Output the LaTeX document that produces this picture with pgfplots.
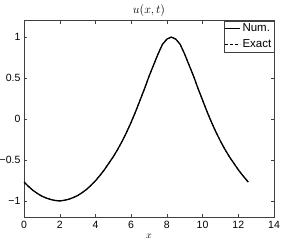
\documentclass[border=0pt]{standalone}
\usepackage{pgfplots}
\pgfplotsset{compat=1.18}
\usepackage{fontspec}
\setmainfont{Liberation Sans}
\begin{document}
\begin{tikzpicture}
\begin{axis}[
  scale only axis, width=250pt, height=196.6pt,
  xmin=0, xmax=14, ymin=-1.2, ymax=1.2,
  xtick={0,2,4,6,8,10,12,14},
  ytick={-1,-0.5,0,0.5,1},
  yticklabels={−1,−0.5,0,0.5,1},
  /pgf/number format/assume math mode=true,
  tick align=inside, major tick length=3pt,
  tick label style={font=\fontsize{10.5}{12}\selectfont},
  axis line style={black!75},
  every tick/.style={black!75},
  title={$u(x,t)$},
  every axis title/.style={font=\fontsize{11.5}{13}\selectfont, at={(0.5,1)}, anchor=base, yshift=7.5pt},
  xlabel={$x$},
  every axis x label/.style={font=\fontsize{10}{12}\selectfont, at={(0.5,0)}, anchor=base, yshift=-21pt},
  legend style={at={(1,1)}, anchor=north east, font=\fontsize{11.5}{13}\selectfont,
    draw=black!75, inner xsep=1pt, inner ysep=1.5pt, row sep=3pt,
    nodes={inner sep=1.5pt}},
  legend cell align=left,
  legend image code/.code={\draw[#1] (0pt,0pt) -- (15pt,0pt);},
]
\addplot[black, line width=1.3pt] coordinates {
(0,-0.770)(0.25,-0.823)(0.5,-0.871)(0.75,-0.909)(1.0,-0.942)(1.25,-0.965)(1.5,-0.983)(1.75,-0.995)
(2.0,-1.0)(2.25,-0.993)(2.5,-0.98)(2.75,-0.96)(3.0,-0.935)(3.25,-0.90)(3.5,-0.86)(3.75,-0.81)
(4.0,-0.755)(4.25,-0.69)(4.5,-0.62)(4.75,-0.54)(5.0,-0.46)(5.25,-0.37)(5.5,-0.27)(5.75,-0.16)
(6.0,-0.04)(6.25,0.09)(6.5,0.23)(6.75,0.37)(7.0,0.52)(7.25,0.655)(7.5,0.79)(7.75,0.91)
(8.0,0.975)(8.25,1.0)(8.5,0.975)(8.75,0.91)(9.0,0.79)(9.25,0.655)(9.5,0.52)(9.75,0.37)
(10.0,0.23)(10.25,0.09)(10.5,-0.04)(10.75,-0.16)(11.0,-0.27)(11.25,-0.37)(11.5,-0.46)(11.75,-0.54)
(12.0,-0.62)(12.25,-0.69)(12.5,-0.755)(12.566,-0.770)
};
\addlegendentry{Num.}
\addplot[black, line width=0.9pt, dash pattern=on 3pt off 2pt] coordinates {
(0,-0.770)(0.25,-0.823)(0.5,-0.871)(0.75,-0.909)(1.0,-0.942)(1.25,-0.965)(1.5,-0.983)(1.75,-0.995)
(2.0,-1.0)(2.25,-0.993)(2.5,-0.98)(2.75,-0.96)(3.0,-0.935)(3.25,-0.90)(3.5,-0.86)(3.75,-0.81)
(4.0,-0.755)(4.25,-0.69)(4.5,-0.62)(4.75,-0.54)(5.0,-0.46)(5.25,-0.37)(5.5,-0.27)(5.75,-0.16)
(6.0,-0.04)(6.25,0.09)(6.5,0.23)(6.75,0.37)(7.0,0.52)(7.25,0.655)(7.5,0.79)(7.75,0.91)
(8.0,0.975)(8.25,1.0)(8.5,0.975)(8.75,0.91)(9.0,0.79)(9.25,0.655)(9.5,0.52)(9.75,0.37)
(10.0,0.23)(10.25,0.09)(10.5,-0.04)(10.75,-0.16)(11.0,-0.27)(11.25,-0.37)(11.5,-0.46)(11.75,-0.54)
(12.0,-0.62)(12.25,-0.69)(12.5,-0.755)(12.566,-0.770)
};
\addlegendentry{Exact}
\end{axis}
\pgfresetboundingbox
\path[use as bounding box] ([xshift=-24pt,yshift=-22.7pt]current axis.south west) rectangle ([xshift=9pt,yshift=20.7pt]current axis.north east);
\end{tikzpicture}
\end{document}
